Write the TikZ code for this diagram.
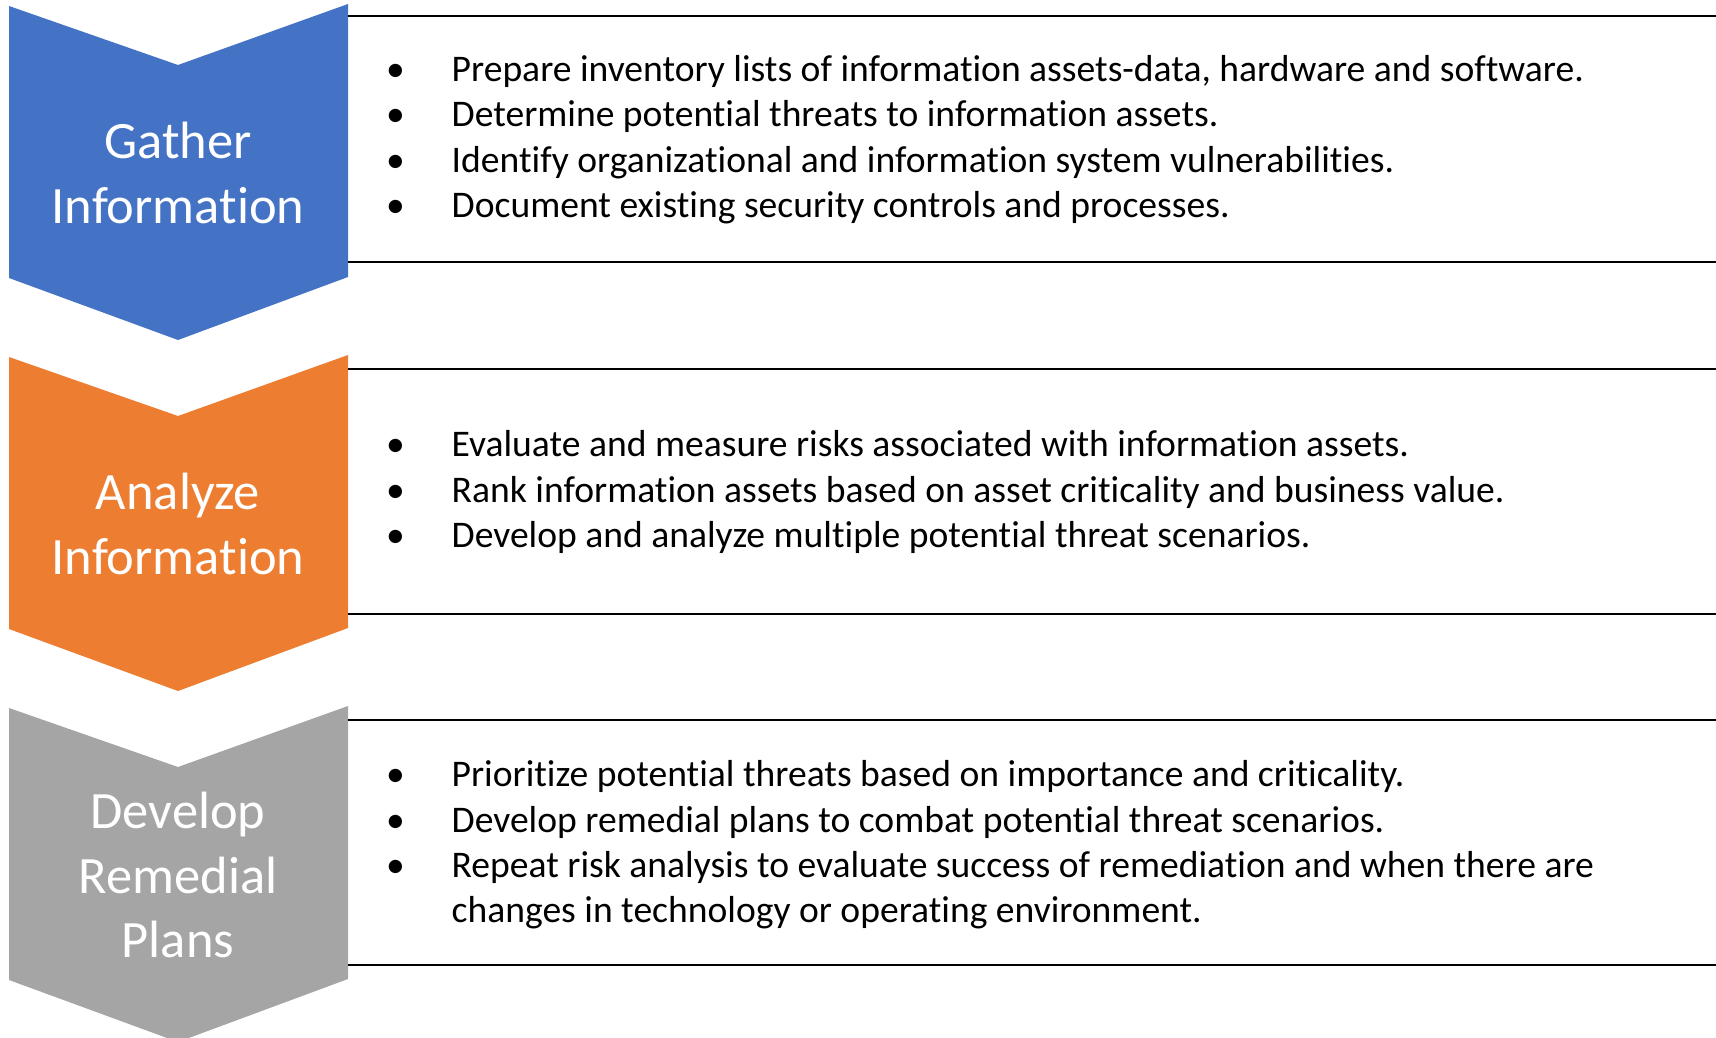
\documentclass[tikz,border=0pt]{standalone}
\usepackage{fontspec}
\setmainfont{Carlito}[Ligatures={NoCommon}]
\definecolor{stepblue}{HTML}{4472C4}
\definecolor{steporange}{HTML}{ED7D31}
\definecolor{stepgray}{HTML}{A5A5A5}
\tikzset{
    chevron/.style={fill=#1, draw=none},
    steplabel/.style={text=white, align=center, inner sep=0pt,
        font=\fontsize{52.5}{64.5}\selectfont},
    itemlist/.style={anchor=base west, inner sep=0pt,
        font=\fontsize{37.6}{45.3}\selectfont},
    rule/.style={line width=2.2pt}
}
\newcommand{\chevronat}[1]{(9,#1+6) -- (178,#1+65) -- (348,#1+4) -- (348,#1+277) -- (178,#1+340) -- (9,#1+278) -- cycle}

\begin{document}
\begin{tikzpicture}[x=1pt, y=-1pt]
    \useasboundingbox (0,0) rectangle (1716,1038);

    % step shapes
    \fill[chevron=stepblue] \chevronat{0};
    \fill[chevron=steporange] \chevronat{351};
    \fill[chevron=stepgray] \chevronat{702};

    \node[steplabel] (gather) at (178,173) {Gather\\Information};
    \node[steplabel] (analyze) at (178,524) {Analyze\\Information};
    \node[steplabel] (remedial) at (178,875) {Develop\\Remedial\\Plans};

    % boxes
    \foreach \top/\bot in {16/262, 369/614, 720/965}{
        \draw[rule] (348,\top) -- (1716,\top);
        \draw[rule] (348,\bot) -- (1716,\bot);
    }

    \node[itemlist] (gatherlist) at (386,81.7) {%
        \begin{tabular}[t]{@{}p{65.5pt}@{}l@{}}
            \textbullet & Prepare inventory lists of information assets-data, hardware and software.\\
            \textbullet & Determine potential threats to information assets.\\
            \textbullet & Identify organizational and information system vulnerabilities.\\
            \textbullet & Document existing security controls and processes.
        \end{tabular}};
    \node[itemlist] (analyzelist) at (386,456.7) {%
        \begin{tabular}[t]{@{}p{65.5pt}@{}l@{}}
            \textbullet & Evaluate and measure risks associated with information assets.\\
            \textbullet & Rank information assets based on asset criticality and business value.\\
            \textbullet & Develop and analyze multiple potential threat scenarios.
        \end{tabular}};
    \node[itemlist] (remediallist) at (386,786.7) {%
        \begin{tabular}[t]{@{}p{65.5pt}@{}l@{}}
            \textbullet & Prioritize potential threats based on importance and criticality.\\
            \textbullet & Develop remedial plans to combat potential threat scenarios.\\
            \textbullet & Repeat risk analysis to evaluate success of remediation and when there are\\
                        & changes in technology or operating environment.
        \end{tabular}};
\end{tikzpicture}
\end{document}
